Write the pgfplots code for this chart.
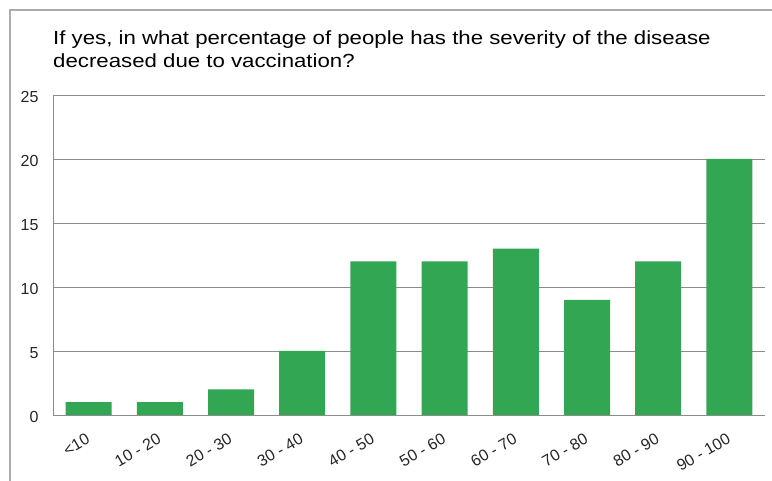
\documentclass[border=0pt]{standalone}
\usepackage{pgfplots}
\pgfplotsset{compat=1.18}
\usepackage{fontspec}
\setmainfont{Liberation Sans}
\newfontfamily\titlefont[FakeStretch=1.17]{Liberation Sans}
\definecolor{bargreen}{RGB}{51,166,84}
\definecolor{gridgray}{RGB}{140,140,140}
\begin{document}
\begin{tikzpicture}[x=1pt,y=1pt]
\path[use as bounding box] (0,0) rectangle (772,481);
\fill[white] (0,0) rectangle (772,481);
\draw[gray!65, line width=1.2pt] (10,0) -- (10,471) -- (772,471);
\node[anchor=base west, inner sep=0pt, font=\titlefont\fontsize{19}{22}\selectfont, text=black] at (53,436)
  {If yes, in what percentage of people has the severity of the disease};
\node[anchor=base west, inner sep=0pt, font=\titlefont\fontsize{19}{22}\selectfont, text=black] at (53,413.5)
  {decreased due to vaccination?};
\begin{axis}[
  scale only axis,
  width=712pt, height=320pt,
  at={(53pt,66pt)}, anchor=south west,
  xmin=-0.5, xmax=9.5, ymin=0, ymax=25,
  ytick={0,5,10,15,20,25},
  xtick={0,...,9},
  xticklabels={<10,10 - 20,20 - 30,30 - 40,40 - 50,50 - 60,60 - 70,70 - 80,80 - 90,90 - 100},
  axis x line*=bottom, axis y line*=left,
  axis line style={gridgray, line width=0.8pt, -},
  major tick length=0pt,
  ymajorgrids,
  grid style={gridgray, line width=0.8pt},
  /pgf/number format/assume math mode=true,
  tick label style={font=\fontsize{16}{18}\selectfont, text=black!85},
  yticklabel style={xshift=-11pt, yshift=-2pt},
  xticklabel style={yshift=-21pt, xshift=2.5pt, rotate=30, anchor=east},
  clip=false,
]
\addplot[ybar, bar width=46pt, fill=bargreen, draw=none] coordinates {
(0,1) (1,1) (2,2) (3,5) (4,12) (5,12) (6,13) (7,9) (8,12) (9,20)
};
\end{axis}
\end{tikzpicture}
\end{document}
